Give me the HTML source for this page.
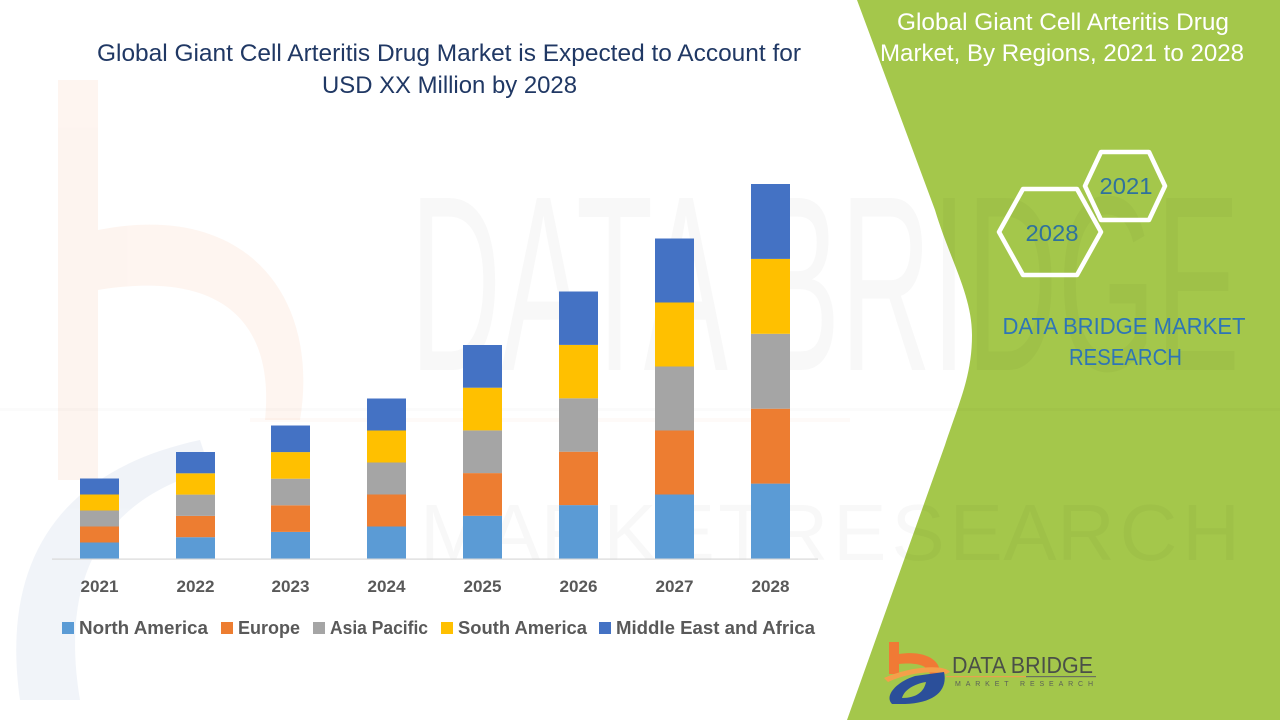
<!DOCTYPE html>
<html>
<head>
<meta charset="utf-8">
<style>
html,body{margin:0;padding:0;background:#fff;}
svg{display:block;}
text{font-family:"Liberation Sans",sans-serif;}
</style>
</head>
<body>
<svg width="1280" height="720" viewBox="0 0 1280 720" xmlns="http://www.w3.org/2000/svg">
  <rect x="0" y="0" width="1280" height="720" fill="#ffffff"/>

  <!-- faint background logo watermark (left) -->
  <g opacity="0.08">
    <rect x="58" y="80" width="40" height="400" fill="#f08040"/>
    <path d="M98,230 C250,200 320,300 300,420 L265,420 C275,320 220,270 98,290 Z" fill="#f08040"/>
    <path d="M20,700 C0,560 60,470 200,440 L210,470 C100,500 60,580 80,700 Z" fill="#4a6fb0"/>
  </g>
  <rect x="250" y="418" width="600" height="4" fill="#f08040" opacity="0.04"/>

  <!-- green panel -->
  <path d="M857,0 L935,210 C950,260 972,295 972,335 C972,375 960,400 945,445 L847,720 L1280,720 L1280,0 Z" fill="#a4c74b"/>

  <!-- faint watermark text -->
  <text x="410" y="370" font-size="250" textLength="830" lengthAdjust="spacingAndGlyphs" fill="#000" opacity="0.025">DATA BRIDGE</text>
  <rect x="0" y="408" width="1280" height="3" fill="#000" opacity="0.015"/>
  <text x="420" y="560" font-size="80" textLength="820" lengthAdjust="spacing" fill="#000" opacity="0.025">M A R K E T  R E S E A R C H</text>

  <!-- title -->
  <text x="449" y="61" font-size="24" fill="#203864" text-anchor="middle" textLength="704" lengthAdjust="spacingAndGlyphs">Global Giant Cell Arteritis Drug Market is Expected to Account for</text>
  <text x="449.5" y="93" font-size="24" fill="#203864" text-anchor="middle" textLength="255" lengthAdjust="spacingAndGlyphs">USD XX Million by 2028</text>

  <!-- axis -->
  <rect x="52" y="558.5" width="766" height="1.2" fill="#d9d9d9"/>

  <!-- bars -->
  <g>
    <rect x="80" y="542.5" width="39" height="16" fill="#5b9bd5"/>
    <rect x="80" y="526.5" width="39" height="16" fill="#ed7d31"/>
    <rect x="80" y="510.5" width="39" height="16" fill="#a5a5a5"/>
    <rect x="80" y="494.5" width="39" height="16" fill="#ffc000"/>
    <rect x="80" y="478.5" width="39" height="16" fill="#4472c4"/>

    <rect x="176" y="537.2" width="39" height="21.3" fill="#5b9bd5"/>
    <rect x="176" y="515.9" width="39" height="21.3" fill="#ed7d31"/>
    <rect x="176" y="494.6" width="39" height="21.3" fill="#a5a5a5"/>
    <rect x="176" y="473.3" width="39" height="21.3" fill="#ffc000"/>
    <rect x="176" y="452" width="39" height="21.3" fill="#4472c4"/>

    <rect x="271" y="531.9" width="39" height="26.6" fill="#5b9bd5"/>
    <rect x="271" y="505.3" width="39" height="26.6" fill="#ed7d31"/>
    <rect x="271" y="478.7" width="39" height="26.6" fill="#a5a5a5"/>
    <rect x="271" y="452.1" width="39" height="26.6" fill="#ffc000"/>
    <rect x="271" y="425.5" width="39" height="26.6" fill="#4472c4"/>

    <rect x="367" y="526.5" width="39" height="32" fill="#5b9bd5"/>
    <rect x="367" y="494.5" width="39" height="32" fill="#ed7d31"/>
    <rect x="367" y="462.5" width="39" height="32" fill="#a5a5a5"/>
    <rect x="367" y="430.5" width="39" height="32" fill="#ffc000"/>
    <rect x="367" y="398.5" width="39" height="32" fill="#4472c4"/>

    <rect x="463" y="515.8" width="39" height="42.7" fill="#5b9bd5"/>
    <rect x="463" y="473.1" width="39" height="42.7" fill="#ed7d31"/>
    <rect x="463" y="430.4" width="39" height="42.7" fill="#a5a5a5"/>
    <rect x="463" y="387.7" width="39" height="42.7" fill="#ffc000"/>
    <rect x="463" y="345" width="39" height="42.7" fill="#4472c4"/>

    <rect x="559" y="505.1" width="39" height="53.4" fill="#5b9bd5"/>
    <rect x="559" y="451.7" width="39" height="53.4" fill="#ed7d31"/>
    <rect x="559" y="398.3" width="39" height="53.4" fill="#a5a5a5"/>
    <rect x="559" y="344.9" width="39" height="53.4" fill="#ffc000"/>
    <rect x="559" y="291.5" width="39" height="53.4" fill="#4472c4"/>

    <rect x="655" y="494.5" width="39" height="64" fill="#5b9bd5"/>
    <rect x="655" y="430.5" width="39" height="64" fill="#ed7d31"/>
    <rect x="655" y="366.5" width="39" height="64" fill="#a5a5a5"/>
    <rect x="655" y="302.5" width="39" height="64" fill="#ffc000"/>
    <rect x="655" y="238.5" width="39" height="64" fill="#4472c4"/>

    <rect x="751" y="483.6" width="39" height="74.9" fill="#5b9bd5"/>
    <rect x="751" y="408.7" width="39" height="74.9" fill="#ed7d31"/>
    <rect x="751" y="333.8" width="39" height="74.9" fill="#a5a5a5"/>
    <rect x="751" y="258.9" width="39" height="74.9" fill="#ffc000"/>
    <rect x="751" y="184" width="39" height="74.9" fill="#4472c4"/>
  </g>

  <!-- year labels -->
  <g font-size="17" font-weight="bold" fill="#595959" text-anchor="middle">
    <text x="99.5" y="592" textLength="38" lengthAdjust="spacingAndGlyphs">2021</text>
    <text x="195.5" y="592" textLength="38" lengthAdjust="spacingAndGlyphs">2022</text>
    <text x="290.5" y="592" textLength="38" lengthAdjust="spacingAndGlyphs">2023</text>
    <text x="386.5" y="592" textLength="38" lengthAdjust="spacingAndGlyphs">2024</text>
    <text x="482.5" y="592" textLength="38" lengthAdjust="spacingAndGlyphs">2025</text>
    <text x="578.5" y="592" textLength="38" lengthAdjust="spacingAndGlyphs">2026</text>
    <text x="674.5" y="592" textLength="38" lengthAdjust="spacingAndGlyphs">2027</text>
    <text x="770.5" y="592" textLength="38" lengthAdjust="spacingAndGlyphs">2028</text>
  </g>

  <!-- legend -->
  <g font-size="18" font-weight="bold" fill="#595959">
    <rect x="62" y="622" width="12" height="12" fill="#5b9bd5"/>
    <text x="79" y="634" textLength="129" lengthAdjust="spacingAndGlyphs">North America</text>
    <rect x="221" y="622" width="12" height="12" fill="#ed7d31"/>
    <text x="238" y="634" textLength="62" lengthAdjust="spacingAndGlyphs">Europe</text>
    <rect x="313" y="622" width="12" height="12" fill="#a5a5a5"/>
    <text x="330" y="634" textLength="98" lengthAdjust="spacingAndGlyphs">Asia Pacific</text>
    <rect x="441" y="622" width="12" height="12" fill="#ffc000"/>
    <text x="458" y="634" textLength="129" lengthAdjust="spacingAndGlyphs">South America</text>
    <rect x="599" y="622" width="12" height="12" fill="#4472c4"/>
    <text x="616" y="634" textLength="199" lengthAdjust="spacingAndGlyphs">Middle East and Africa</text>
  </g>

  <!-- right panel title -->
  <text x="1063" y="30" font-size="24" fill="#ffffff" text-anchor="middle" textLength="332" lengthAdjust="spacingAndGlyphs">Global Giant Cell Arteritis Drug</text>
  <text x="1062" y="61" font-size="24" fill="#ffffff" text-anchor="middle" textLength="364" lengthAdjust="spacingAndGlyphs">Market, By Regions, 2021 to 2028</text>

  <!-- hexagons -->
  <polygon points="1085,186 1101,152 1149,152 1165,186 1149,220 1101,220" fill="none" stroke="#ffffff" stroke-width="4.5" stroke-linejoin="round"/>
  <polygon points="999,232 1023,189 1077,189 1101,232 1077,275 1023,275" fill="none" stroke="#ffffff" stroke-width="4.5" stroke-linejoin="round"/>
  <text x="1126" y="194" font-size="23" fill="#2f729d" text-anchor="middle" textLength="53" lengthAdjust="spacingAndGlyphs">2021</text>
  <text x="1052" y="241" font-size="23" fill="#2f729d" text-anchor="middle" textLength="53" lengthAdjust="spacingAndGlyphs">2028</text>

  <text x="1124" y="334" font-size="23" fill="#2e75b6" text-anchor="middle" textLength="243" lengthAdjust="spacingAndGlyphs">DATA BRIDGE MARKET</text>
  <text x="1125.5" y="365" font-size="23" fill="#2e75b6" text-anchor="middle" textLength="113" lengthAdjust="spacingAndGlyphs">RESEARCH</text>

  <!-- bottom logo -->
  <g>
    <rect x="889" y="642" width="10" height="32" fill="#f07a35"/>
    <path d="M899,654 C925,650 942,660 940,676 L930,676 C930,666 918,662 899,664 Z" fill="#f07a35"/>
    <path d="M884,678 C910,666 945,664 950,672 L946,674 C930,670 905,674 888,682 Z" fill="#f4a04a"/>
    <path d="M892,704 C884,696 896,682 915,676 L944,672 C948,690 935,703 905,704 Z" fill="#2b4f9a"/>
    <path d="M902,698 C904,690 914,684 926,682 C924,692 916,698 902,698 Z" fill="#a4c74b"/>
  </g>
  <text x="952" y="673" font-size="23" fill="#4a4f48" textLength="141" lengthAdjust="spacingAndGlyphs">DATA BRIDGE</text>
  <rect x="946" y="676" width="80" height="1.2" fill="#e8a050"/>
  <rect x="1026" y="676" width="70" height="1.2" fill="#6a7060"/>
  <text x="955" y="686" font-size="7" fill="#5a5f58" textLength="138" lengthAdjust="spacing">MARKET   RESEARCH</text>
</svg>
</body>
</html>
